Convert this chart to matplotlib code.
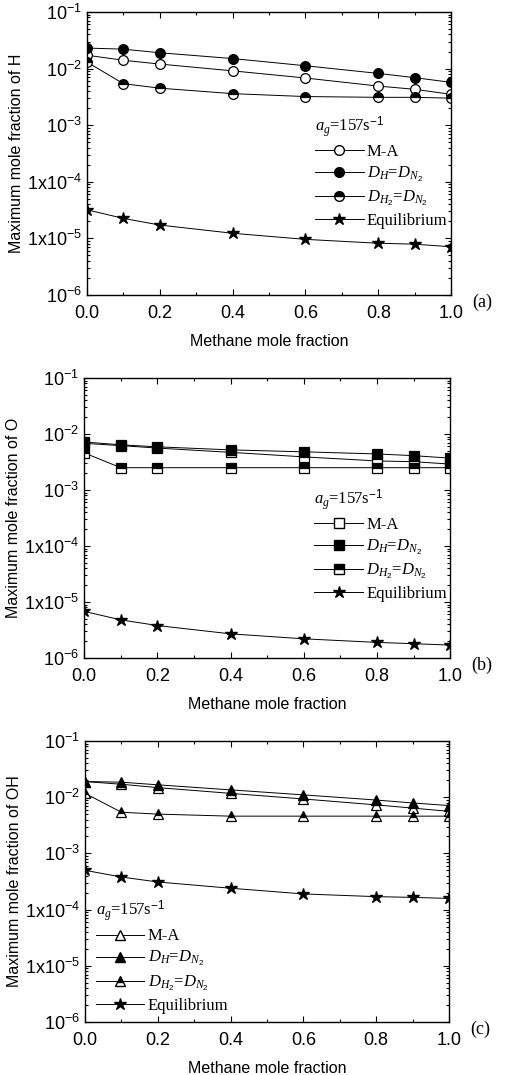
import numpy as np
import matplotlib
matplotlib.use('Agg')
import matplotlib.pyplot as plt
from matplotlib.ticker import FixedLocator, FixedFormatter, LogLocator, MultipleLocator, NullFormatter
from matplotlib.lines import Line2D

plt.rcParams['font.family'] = ['Liberation Sans', 'DejaVu Sans']
plt.rcParams['mathtext.fontset'] = 'custom'
plt.rcParams['mathtext.rm'] = 'Liberation Sans'
plt.rcParams['mathtext.it'] = 'Liberation Serif:italic'

# methane mole fraction
x = [0.0, 0.1, 0.2, 0.4, 0.6, 0.8, 0.9, 1.0]

# (a) H
h_ma = [0.0172, 0.0140, 0.0120, 0.0091, 0.0068, 0.0049, 0.0043, 0.0035]
h_dh = [0.0230, 0.0220, 0.0190, 0.0150, 0.0112, 0.0082, 0.0069, 0.0057]
h_dh2 = [0.0130, 0.0054, 0.0045, 0.0036, 0.0032, 0.0031, 0.0031, 0.0030]
h_eq = [3.2e-5, 2.25e-5, 1.72e-5, 1.23e-5, 9.6e-6, 8.2e-6, 7.9e-6, 7.1e-6]

# (b) O
o_ma = [0.0068, 0.0062, 0.0056, 0.0047, 0.0039, 0.0033, 0.0032, 0.0029]
o_dh = [0.0072, 0.0064, 0.0059, 0.0052, 0.0048, 0.0044, 0.0041, 0.0037]
o_dh2 = [0.0046, 0.0025, 0.0025, 0.0025, 0.0025, 0.0025, 0.0025, 0.0025]
o_eq = [6.8e-6, 4.8e-6, 3.8e-6, 2.7e-6, 2.2e-6, 1.9e-6, 1.8e-6, 1.7e-6]

# (c) OH
oh_ma = [0.0190, 0.0170, 0.0148, 0.0117, 0.0093, 0.0073, 0.0064, 0.0056]
oh_dh = [0.0190, 0.0185, 0.0166, 0.0135, 0.0110, 0.0089, 0.0079, 0.0071]
oh_dh2 = [0.0117, 0.0054, 0.0050, 0.0046, 0.0046, 0.0046, 0.0046, 0.0046]
oh_eq = [5.0e-4, 3.8e-4, 3.1e-4, 2.4e-4, 1.9e-4, 1.7e-4, 1.65e-4, 1.58e-4]

species = ['H', 'O', 'OH']
panel_tags = ['(a)', '(b)', '(c)']
markers = ['o', 's', '^']
series = [
    (h_ma, h_dh, h_dh2, h_eq),
    (o_ma, o_dh, o_dh2, o_eq),
    (oh_ma, oh_dh, oh_dh2, oh_eq),
]
legend_labels = ['M-A', r'$D_H$=$D_{N_2}$', r'$D_{H_2}$=$D_{N_2}$', 'Equilibrium']

ytick_vals = [1e-6, 1e-5, 1e-4, 1e-3, 1e-2, 1e-1]
ytick_text = [r'$\mathregular{10^{-6}}$', r'$\mathregular{1x10^{-5}}$', r'$\mathregular{1x10^{-4}}$',
              r'$\mathregular{10^{-3}}$', r'$\mathregular{10^{-2}}$', r'$\mathregular{10^{-1}}$']

fig = plt.figure(figsize=(5.1, 10.75), dpi=100)

# axes boxes in figure fractions
boxes = [
    [0.1706, 0.7256, 0.714, 0.2633],
    [0.1650, 0.3879, 0.718, 0.2605],
    [0.1667, 0.0493, 0.7137, 0.2614],
]
legend_pos = [(0.99, 0.64), (0.99, 0.61), (0.03, 0.03)]
legend_loc = ['upper right', 'upper right', 'lower left']

for i in range(3):
    ax = fig.add_axes(boxes[i])
    ma, dh, dh2, eq = series[i]
    m = markers[i]
    kw = dict(color='black', lw=0.7, ms=7, mec='black', mew=0.9)
    ax.plot(x, ma, marker=m, mfc='white', **kw)
    ax.plot(x, dh, marker=m, mfc='black', **kw)
    ax.plot(x, dh2, marker=m, fillstyle='top', mfc='black', markerfacecoloralt='white', **kw)
    ax.plot(x, eq, marker='*', mfc='black', color='black', lw=0.7, ms=9, mec='black')

    ax.set_yscale('log')
    ax.set_xlim(0, 1.0)
    ax.set_ylim(1e-6, 1e-1)
    ax.yaxis.set_major_locator(FixedLocator(ytick_vals))
    ax.yaxis.set_major_formatter(FixedFormatter(ytick_text))
    ax.yaxis.set_minor_locator(LogLocator(base=10, subs=np.arange(2, 10), numticks=20))
    ax.yaxis.set_minor_formatter(NullFormatter())
    ax.xaxis.set_major_locator(MultipleLocator(0.2))
    ax.xaxis.set_minor_locator(MultipleLocator(0.1))
    ax.xaxis.set_major_formatter(plt.FuncFormatter(lambda v, p: '%.1f' % v))
    ax.tick_params(which='both', direction='in', top=True, right=True, labelsize=13, width=0.8)
    ax.tick_params(which='major', length=4)
    ax.tick_params(which='minor', length=2.5)
    ax.tick_params(axis='x', pad=7)
    for s in ax.spines.values():
        s.set_linewidth(1.0)

    ax.set_xlabel('Methane mole fraction', fontsize=11.5, labelpad=9)
    ax.set_ylabel('Maximum mole fraction of ' + species[i], fontsize=11.5, labelpad=2)

    handles = [
        Line2D([], [], marker=m, color='black', lw=0.7, ms=7, mfc='white', mec='black'),
        Line2D([], [], marker=m, color='black', lw=0.7, ms=7, mfc='black', mec='black'),
        Line2D([], [], marker=m, color='black', lw=0.7, ms=7, fillstyle='top', mfc='black',
               markerfacecoloralt='white', mec='black'),
        Line2D([], [], marker='*', color='black', lw=0.7, ms=9, mfc='black', mec='black'),
    ]
    leg = ax.legend(handles, legend_labels, loc=legend_loc[i], bbox_to_anchor=legend_pos[i],
                    frameon=False, handlelength=2.9, handletextpad=0.2, labelspacing=0.3,
                    borderaxespad=0.0, borderpad=0.0,
                    title=r'$a_g$=157s$^{-1}$',
                    prop={'family': 'Liberation Serif', 'size': 12})
    leg.get_title().set_fontfamily('Liberation Serif')
    leg.get_title().set_fontsize(12)
    leg._legend_box.align = 'left'

    ax.text(1.058, -0.025, panel_tags[i], transform=ax.transAxes, fontsize=13,
            family='Liberation Serif', va='center', ha='left')

fig.savefig('out.png', dpi=100)
